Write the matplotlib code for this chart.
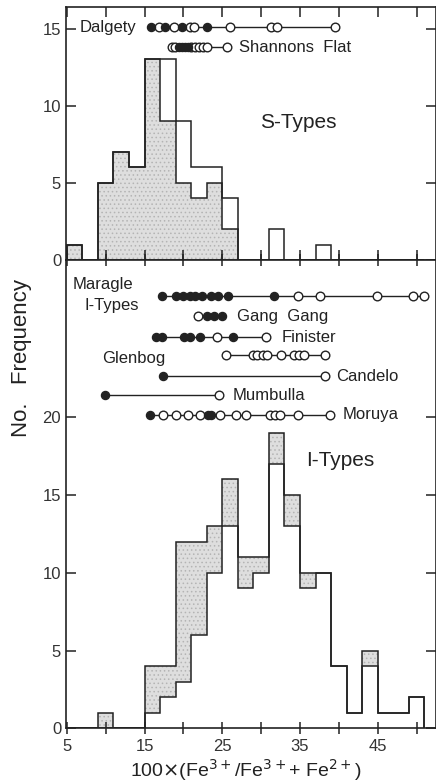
import numpy as np
import matplotlib.pyplot as plt

plt.rcParams['font.family'] = ['Liberation Sans', 'DejaVu Sans']
plt.rcParams['hatch.color'] = '#b4b4b4'
plt.rcParams['hatch.linewidth'] = 0.6

# histogram bins (2 units wide, starting at 5)
bin_edges = np.arange(5, 53, 2)

# S-types: total outline and shaded part
s_total  = [1, 0, 5, 7, 6, 13, 13, 9, 6, 6, 4, 0, 0, 2, 0, 0, 1, 0, 0, 0, 0, 0, 0]
s_shaded = [1, 0, 5, 7, 6, 13, 9, 5, 4, 5, 2, 0, 0, 0, 0, 0, 0, 0, 0, 0, 0, 0, 0]

# I-types: lower outline and upper (shaded on top)
i_lower = [0, 0, 0, 0, 0, 1, 2, 3, 6, 10, 13, 9, 10, 17, 13, 9, 10, 4, 1, 4, 1, 1, 2]
i_upper = [0, 0, 1, 0, 0, 4, 4, 12, 12, 13, 16, 11, 11, 19, 15, 10, 10, 4, 1, 5, 1, 1, 2]

# range bars: (filled points, open points)
dalgety_filled = [15.8, 17.6, 19.8, 23.1]
dalgety_open = [16.8, 18.8, 20.8, 21.4, 26.0, 31.3, 32.0, 39.5]
shannons_filled = [19.4, 19.8, 20.2, 20.6]
shannons_open = [18.5, 18.9, 21.0, 21.5, 22.0, 22.5, 23.0, 25.6]

maragle_filled = [17.2, 19.0, 20.0, 20.8, 21.5, 22.4, 23.5, 24.5, 25.7, 31.6]
maragle_open = [34.8, 37.6, 44.9, 49.6, 50.9]
ganggang_filled = [23.0, 23.9, 25.0]
ganggang_open = [21.9]
finister_filled = [16.5, 17.2, 20.1, 20.8, 22.2, 26.4]
finister_open = [24.3, 30.6]
glenbog_filled = []
glenbog_open = [25.5, 28.9, 29.5, 30.2, 30.8, 32.6, 34.2, 34.9, 35.5, 38.2]
candelo_filled = [17.35]
candelo_open = [38.2]
mumbulla_filled = [9.9]
mumbulla_open = [24.6]
moruya_filled = [15.7, 23.2, 23.5]
moruya_open = [17.4, 19.0, 20.6, 22.2, 24.7, 26.8, 28.1, 31.2, 31.8, 32.4, 34.7, 38.8]

ink = '#222222'
shade = '#dedede'

fig = plt.figure(figsize=(4.36, 7.84), dpi=100)
ax1 = fig.add_axes([66 / 436, 1 - 260 / 784, 1 - 66 / 436, (260 - 7) / 784])
ax2 = fig.add_axes([66 / 436, 1 - 728.3 / 784, 1 - 66 / 436, (728.3 - 260) / 784])


def range_row(ax, y, filled, opened):
    pts = list(filled) + list(opened)
    ax.plot([min(pts), max(pts)], [y, y], color=ink, lw=1.0, zorder=3)
    ax.plot(opened, [y] * len(opened), 'o', ms=6.2, mfc='white', mec=ink, mew=1.0, zorder=4)
    ax.plot(filled, [y] * len(filled), 'o', ms=5.8, mfc=ink, mec=ink, zorder=5)


# --- S-types panel
ax1.stairs(s_shaded, bin_edges, fill=True, facecolor=shade, edgecolor='#b4b4b4',
           hatch='....', lw=0)
ax1.stairs(s_shaded, bin_edges, color=ink, lw=1.1)
ax1.stairs(s_total, bin_edges, color=ink, lw=1.1)
range_row(ax1, 15.1, dalgety_filled, dalgety_open)
range_row(ax1, 13.8, shannons_filled, shannons_open)
ax1.text(6.6, 15.1, 'Dalgety', fontsize=12, va='center', ha='left', color=ink)
ax1.text(27.1, 13.75, 'Shannons  Flat', fontsize=12, va='center', ha='left', color=ink)
ax1.text(29.9, 8.9, 'S-Types', fontsize=15, va='center', ha='left', color=ink)
ax1.set_ylim(0, 16.4)
ax1.set_yticks([0, 5, 10, 15])

# --- I-types panel
ax2.stairs(i_upper, bin_edges, baseline=i_lower, fill=True, facecolor=shade,
           edgecolor='#b4b4b4', hatch='....', lw=0)
ax2.stairs(i_lower, bin_edges, color=ink, lw=1.1)
ax2.stairs(i_upper, bin_edges, color=ink, lw=1.1)
range_row(ax2, 27.8, maragle_filled, maragle_open)
range_row(ax2, 26.5, ganggang_filled, ganggang_open)
range_row(ax2, 25.15, finister_filled, finister_open)
range_row(ax2, 24.0, glenbog_filled, glenbog_open)
range_row(ax2, 22.65, candelo_filled, candelo_open)
range_row(ax2, 21.4, mumbulla_filled, mumbulla_open)
range_row(ax2, 20.15, moruya_filled, moruya_open)
ax2.text(5.7, 28.55, 'Maragle', fontsize=12, va='center', ha='left', color=ink)
ax2.text(7.3, 27.2, 'I-Types', fontsize=12, va='center', ha='left', color=ink)
ax2.text(26.9, 26.45, 'Gang  Gang', fontsize=12, va='center', ha='left', color=ink)
ax2.text(32.7, 25.15, 'Finister', fontsize=12, va='center', ha='left', color=ink)
ax2.text(9.5, 23.8, 'Glenbog', fontsize=12, va='center', ha='left', color=ink)
ax2.text(39.7, 22.6, 'Candelo', fontsize=12, va='center', ha='left', color=ink)
ax2.text(26.3, 21.4, 'Mumbulla', fontsize=12, va='center', ha='left', color=ink)
ax2.text(40.5, 20.15, 'Moruya', fontsize=12, va='center', ha='left', color=ink)
ax2.text(35.8, 17.2, 'I-Types', fontsize=15, va='center', ha='left', color=ink)
ax2.set_ylim(0, 30.1)
ax2.set_yticks([0, 5, 10, 15, 20])

xt = np.arange(5, 55, 5)
for ax in (ax1, ax2):
    ax.set_xlim(4.9, 52.5)
    ax.set_xticks(xt)
    for s in ax.spines.values():
        s.set_color(ink)
        s.set_linewidth(1.2)
    ax.tick_params(axis='both', colors=ink, labelcolor='#333333', labelsize=12,
                   width=1.1, length=7, direction='in', top=True, right=True)
    ax.tick_params(axis='y', which='both', left=True, direction='inout', length=9)
    ax.tick_params(axis='y', right=True, direction='in', length=7)

ax1.tick_params(axis='x', labelbottom=False)
ax2.tick_params(axis='x', direction='inout', length=9)
ax2.tick_params(axis='x', top=True)
ax2.set_xticklabels([str(v) if v % 10 == 5 else '' for v in xt])

fig.text(0.05, 1 - 358 / 784, 'No.   Frequency', rotation=90, fontsize=16,
         ha='center', va='center', color=ink)
fig.text(0.565, 1 - 770 / 784, r'100$\times$(Fe$^{3+}$/Fe$^{3+}$+ Fe$^{2+}$)',
         fontsize=14, ha='center', va='center', color=ink)

fig.savefig('out.png', dpi=100)
